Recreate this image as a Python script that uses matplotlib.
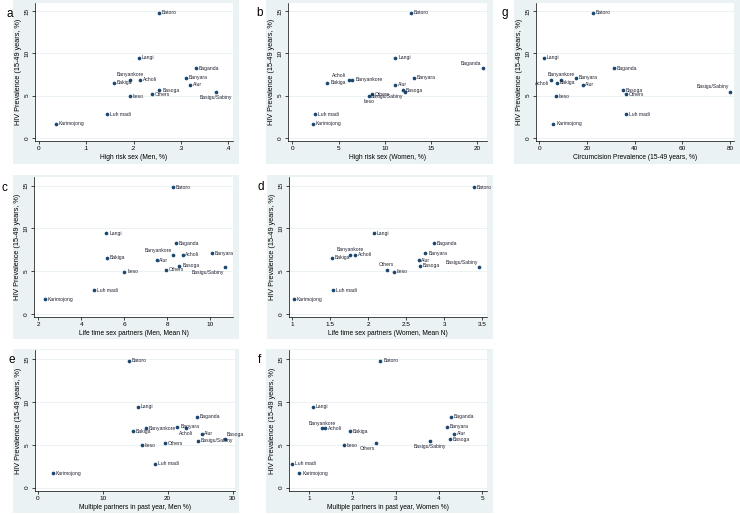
import math
import matplotlib
matplotlib.use('Agg')
import matplotlib.pyplot as plt
from matplotlib.patches import Rectangle

plt.rcParams['font.family'] = ['Liberation Sans Narrow', 'Liberation Sans', 'DejaVu Sans']

# ethnic groups and HIV prevalence (15-49 years, %)
groups = ["Batoro", "Langi", "Baganda", "Banyara", "Banyankore", "Acholi", "Bakiga",
          "Alur", "Basoga", "Basigu/Sabiny", "Others", "Iteso", "Luh madi", "Karimojong"]
hiv = [14.8, 9.45, 8.25, 7.1, 6.9, 6.9, 6.55, 6.3, 5.65, 5.45, 5.15, 4.95, 2.8, 1.7]

# x variables, same group order
risk_men = [0.254, 0.212, 0.333, 0.311, 0.193, 0.214, 0.159, 0.320, 0.255, 0.374, 0.240, 0.193, 0.144, 0.036]
risk_women = [12.85, 11.15, 20.6, 13.2, 6.5, 6.1, 3.8, 11.15, 12.0, 12.15, 8.65, 8.35, 2.5, 2.25]
circ = [22.4, 1.8, 31.3, 15.4, 9.1, 4.9, 7.3, 18.2, 35.0, 80.0, 36.5, 7.1, 36.5, 5.9]
life_men = [8.24, 5.17, 8.38, 10.08, 8.26, 8.71, 5.18, 7.5, 8.56, 10.68, 7.94, 6.0, 4.59, 2.3]
life_women = [3.39, 2.07, 2.86, 2.75, 1.76, 1.83, 1.52, 2.66, 2.68, 3.46, 2.24, 2.34, 1.535, 1.02]
multi_men = [14.0, 15.4, 24.5, 21.5, 16.6, 22.8, 14.6, 25.2, 28.8, 24.7, 19.6, 16.0, 18.0, 2.3]
multi_women = [2.65, 1.10, 4.28, 4.18, 1.31, 1.38, 1.94, 4.35, 4.25, 3.80, 2.55, 1.81, 0.61, 0.78]

W, H = 740, 514
BG = '#eaf2f3'
NAVY = '#1a476f'

fig = plt.figure(figsize=(W / 100, H / 100), dpi=100)


def clock_offset(c, r=2.0):
    ang = math.radians(90 - 30 * c)
    dx, dy = r * math.cos(ang), r * math.sin(ang)
    ha = 'left' if dx > 0.3 else ('right' if dx < -0.3 else 'center')
    va = 'bottom' if dy > 0.3 else ('top' if dy < -0.3 else 'center')
    return dx, dy, ha, va


def panel(letter, lpos, box, rect, xs, xlabel, xlim, xticks, xticklabels, where):
    x0, y0, x1, y1 = box
    fig.patches.append(Rectangle((x0 / W, 1 - y1 / H), (x1 - x0) / W, (y1 - y0) / H,
                                 transform=fig.transFigure, facecolor=BG,
                                 edgecolor='none', zorder=-1))
    l, t, r, b = rect
    ax = fig.add_axes([l / W, 1 - b / H, (r - l) / W, (b - t) / H])
    ax.set_facecolor('white')
    ax.scatter(xs, hiv, s=7, color=NAVY, linewidths=0, zorder=3)
    for g, xv, yv in zip(groups, xs, hiv):
        dx, dy, ha, va = clock_offset(where.get(g, 3))
        ax.annotate(g, (xv, yv), xytext=(dx, dy), textcoords='offset points',
                    ha=ha, va=va, fontsize=3.6, color='#222233', annotation_clip=False)
    ax.set_xlim(xlim)
    ax.set_ylim(-0.33, 16.0)
    ax.set_xticks(xticks)
    ax.set_xticklabels(xticklabels)
    ax.set_yticks([0, 5, 10, 15])
    ax.set_yticklabels(['0', '5', '10', '15'], rotation=90, va='center')
    ax.yaxis.grid(True, color=BG, lw=0.7)
    ax.set_axisbelow(True)
    for s in ['top', 'right']:
        ax.spines[s].set_visible(False)
    for s in ['left', 'bottom']:
        ax.spines[s].set_linewidth(0.5)
    ax.tick_params(length=2.5, width=0.5, labelsize=4.6, pad=1.5)
    ax.set_xlabel(xlabel, fontsize=4.8, labelpad=2)
    ax.set_ylabel('HIV Prevalence (15-49 years, %)', fontsize=5.2, labelpad=2,
                  family='Liberation Sans')
    fig.text(lpos[0] / W, 1 - lpos[1] / H, letter, fontsize=8.5, ha='center', va='center',
             family='Liberation Sans')
    return ax


panel('a', (10, 14), (13, 0, 239, 164), (35, 2.5, 233, 140.8), risk_men,
      'High risk sex (Men, %)', (-0.0085, 0.4106),
      [0, 0.1, 0.2, 0.3, 0.4], ['0', '.1', '.2', '.3', '.4'],
      {"Banyankore": 12, "Basigu/Sabiny": 6})

panel('b', (259.5, 13), (266, 0, 493, 164), (288, 2.5, 487, 140.8), risk_women,
      'High risk sex (Women, %)', (-0.47, 21.07),
      [0, 5, 10, 15, 20], ['0', '5', '10', '15', '20'],
      {"Baganda": 11, "Acholi": 10, "Basigu/Sabiny": 7, "Iteso": 6})

panel('g', (505, 13), (514, 0, 740, 164), (536, 2.5, 734, 140.8), circ,
      'Circumcision Prevalence (15-49 years, %)', (-1.38, 81.7),
      [0, 20, 40, 60, 80], ['0', '20', '40', '60', '80'],
      {"Banyankore": 12, "Acholi": 8, "Basigu/Sabiny": 11})

panel('c', (4, 188), (13, 175, 239, 339), (34.3, 177.1, 233, 316.8), life_men,
      'Life time sex partners (Men, Mean N)', (1.82, 11.05),
      [2, 4, 6, 8, 10], ['2', '4', '6', '8', '10'],
      {"Banyankore": 11, "Basigu/Sabiny": 7})

panel('d', (261, 187), (267, 175, 493, 339), (289, 177.1, 487, 316.8), life_women,
      'Life time sex partners (Women, Mean N)', (0.957, 3.56),
      [1, 1.5, 2, 2.5, 3, 3.5], ['1', '1.5', '2', '2.5', '3', '3.5'],
      {"Banyankore": 12, "Basigu/Sabiny": 11, "Others": 12})

panel('e', (12, 360), (13, 349, 239, 513), (35, 350.4, 235, 490.5), multi_men,
      'Multiple partners in past year, Men %)', (-0.42, 30.35),
      [0, 10, 20, 30], ['0', '10', '20', '30'],
      {"Acholi": 6, "Basoga": 1})

panel('f', (259, 360), (266, 349, 493, 513), (289.3, 350.4, 487, 490.5), multi_women,
      'Multiple partners in past year, Women %)', (0.545, 5.11),
      [1, 2, 3, 4, 5], ['1', '2', '3', '4', '5'],
      {"Banyankore": 12, "Basigu/Sabiny": 6, "Others": 7})

fig.savefig('out.png', dpi=100)
